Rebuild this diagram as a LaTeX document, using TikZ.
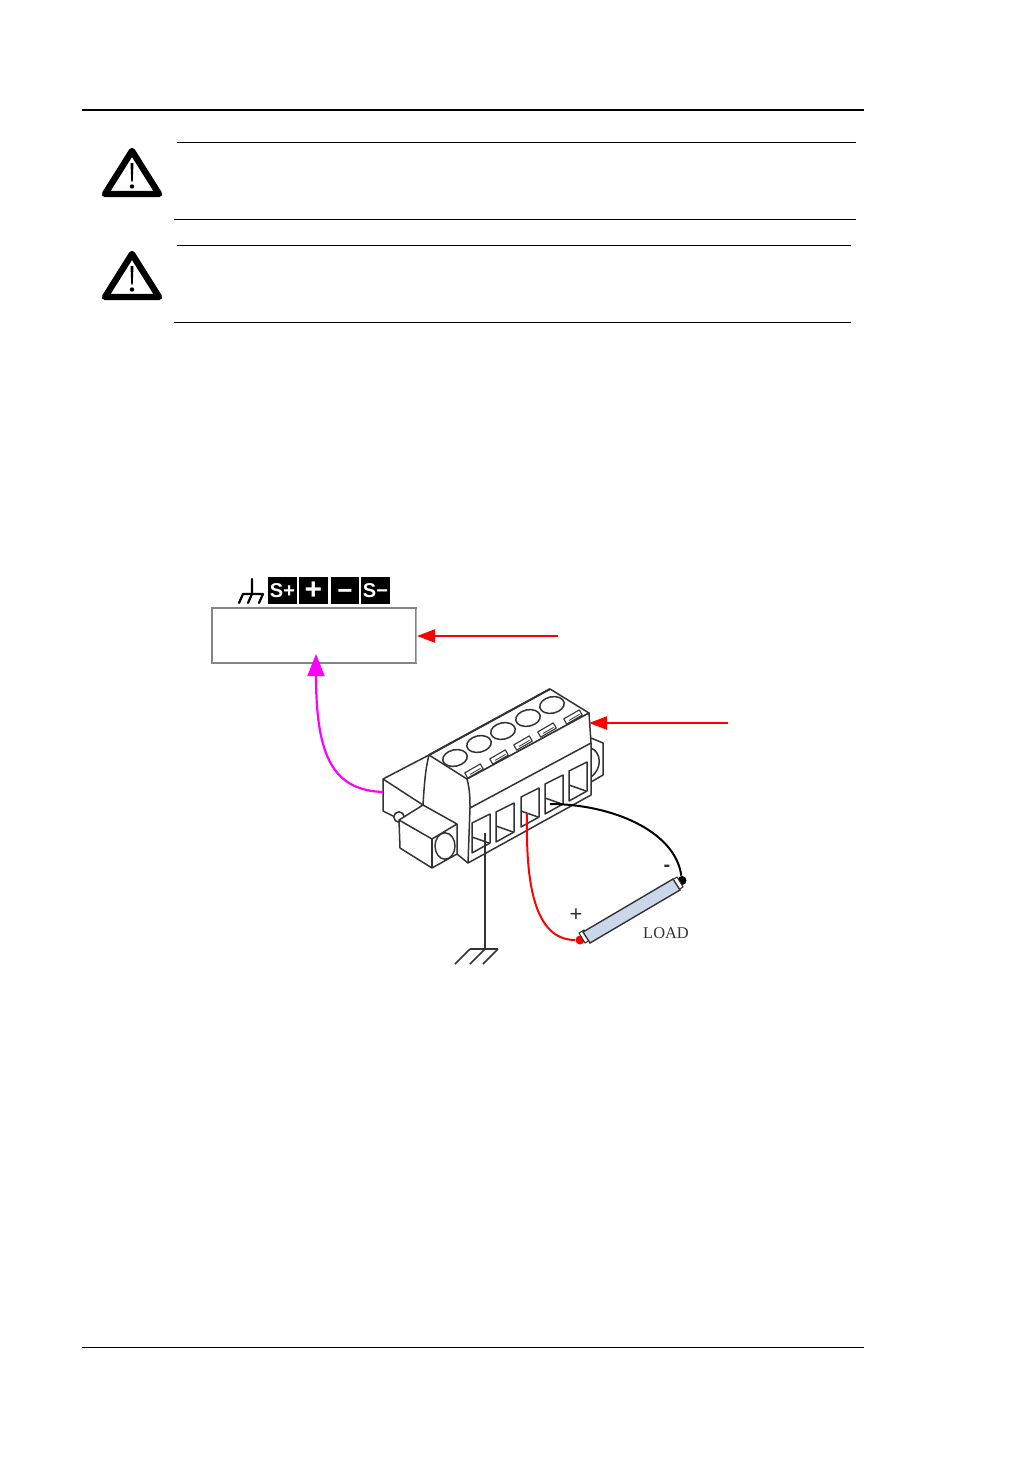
\documentclass[tikz,border=0pt]{standalone}
\usepackage{fontspec}
\setmainfont{Liberation Sans}
\newfontfamily\loadfont{Liberation Serif}
\usetikzlibrary{arrows.meta}
\definecolor{loadblue}{HTML}{CBD6EA}
\definecolor{lineink}{HTML}{333333}
\definecolor{purered}{RGB}{255,0,0}
\definecolor{puremag}{RGB}{255,0,255}
\definecolor{panelgrey}{HTML}{858585}
\tikzset{
  x=0.5pt,y=-0.5pt,
  rule/.style={draw=black,line width=0.5pt},
  part/.style={draw=lineink,line width=0.75pt,line join=round},
  wire/.style={line width=1pt},
  chip/.style={fill=black,text=white,inner sep=0pt,minimum width=14.4pt,minimum height=13.6pt,font=\bfseries\fontsize{10}{10}\selectfont},
  redarrow/.style={draw=purered,line width=1.1pt,-{Triangle[length=9pt,width=6.5pt]}},
  magarrow/.style={draw=puremag,line width=1.1pt,-{Triangle[length=11pt,width=8.5pt]}},
  warnsign/.pic={
    \draw[line width=3.2pt,line join=round,black] (0,4) -- (-27,47) -- (27,47) -- cycle;
    \fill[black] (-1.5,16) -- (1.5,16) -- (0.7,34.5) -- (-0.7,34.5) -- cycle;
    \fill[black] (0,39.5) circle (1.1pt);
  },
  dot/.style={circle,inner sep=0pt,minimum size=4.5pt},
}
\begin{document}
\begin{tikzpicture}
\useasboundingbox (0,0) rectangle (1032,1457);
% page rules
\draw[rule,line width=1pt] (82,110) -- (864,110);
\draw[rule] (82,1347) -- (864,1347);
% notices
\draw[rule] (177,142) -- (856,142);
\draw[rule] (174,219) -- (856,219);
\draw[rule] (177,245) -- (851,245);
\draw[rule] (174,322) -- (851,322);
\pic at (132,147) {warnsign};
\pic at (132,250) {warnsign};
% terminal labels
\node[chip] (sp) at (282.5,590.5) {S+};
\node[chip] (pl) at (313.5,590.5) {\fontsize{15}{15}\selectfont +};
\node[chip,text height=9pt,text depth=0pt] (mi) at (345,590.5) {\fontsize{13}{13}\selectfont −};
\node[chip] (sm) at (375.5,590.5) {S−};
% chassis ground symbol
\draw[line width=1.1pt,black,line cap=round] (252,579) -- (252,594) (243,594) -- (263,594)
  (243,594) -- (239,603) (252,594) -- (248,603) (263,594) -- (259,603);
% panel box
\node[draw=panelgrey,line width=0.6pt,fill=white,inner sep=0pt,minimum width=102pt,minimum height=27.5pt] (panel) at (314,635.5) {};
\draw[draw=gray!60,line width=0.5pt] (416.5,609) -- (416.5,663);
% connector: right ear
\draw[part] (591,738) -- (603,743) -- (603,775) -- (591,782);
\draw[part] (591,748) .. controls (601,752) and (603,768) .. (591,777);
% left flange
\draw[part] (429,755) -- (383,779) -- (383,811) -- (395,817);
\draw[part] (383,779) -- (423,805);
\draw[part] (429,755) .. controls (425,770) and (424,790) .. (423,805);
% pin
\draw[part,fill=white] (399,817) circle (2.6pt);
% small cube
\draw[part,fill=white] (399,820) -- (423,805) -- (457,824) -- (457,854) -- (432,868) -- (400,848) -- cycle;
\draw[part] (399,820) -- (432,839) -- (457,824);
\draw[part] (432,839) -- (432,868);
\draw[part] (445,846) ellipse (5pt and 6.6pt);
\draw[part] (457,854) -- (468,863);
% body
\draw[part,fill=white] (429,755) -- (550,689) -- (589,713) -- (467,779) -- cycle;
\draw[part,line width=1pt] (429,755) -- (550,689);
\draw[part,fill=white] (467,779) .. controls (470,790) and (470,800) .. (470,808) -- (468,863) -- (591,795) -- (591,743) -- (589,713) -- cycle;
\draw[part] (470,808) -- (591,743);
% top holes
\foreach \cx/\cy in {455/758,479/744,503/731,528/718,552/705}{
  \draw[part,rotate around={12:(\cx,\cy)}] (\cx,\cy) ellipse (6.2pt and 4.1pt);
}
% slots
\foreach \cx/\cy in {474/771,499/757,523/743,547/730,573/717}{
  \begin{scope}[shift={(\cx,\cy)},rotate=30]
    \draw[part,line width=0.55pt] (-9,-3) rectangle (9,3);
    \draw[part,line width=0.4pt] (-5,1) -- (7,1);
  \end{scope}
}
% front windows
\foreach \ax/\ay in {472/823,496/812,521/797,545/784,569/771}{
  \draw[part] (\ax,\ay) -- (\ax+18,\ay-9) -- (\ax+18,\ay+20) -- (\ax,\ay+30) -- cycle;
  \draw[part] (\ax,\ay+14) -- (\ax+17,\ay+20);
}
% named anchors for wires
\coordinate (gndtop) at (485,833);
\coordinate (gndbar) at (485,949);
\coordinate (redin) at (527,813);
\coordinate (blackin) at (550,804);
\node[dot,fill=purered] (plusdot) at (580,940) {};
\node[dot,fill=black] (minusdot) at (682,880.5) {};
% ground wire and symbol
\draw[part] (gndtop) -- (gndbar);
\draw[part] (470,949) -- (498,949);
\draw[part] (470,949) -- (455,964) (485,949) -- (470,964) (498,949) -- (483,964);
% load
\draw[draw=lineink,line width=0.5pt,fill=white] (579,933) -- (585,943) -- (590,940) -- (584,930) -- cycle;
\draw[draw=lineink,line width=0.5pt,fill=white] (672,880) -- (678,890) -- (683,887) -- (677,877) -- cycle;
\draw[draw=lineink,line width=0.7pt,fill=loadblue] (583,932) -- (673,879) -- (680,890) -- (590,943) -- cycle;
% wires
\draw[purered,wire] (redin) .. controls (526,870) and (530,940) .. (plusdot);
\draw[black,wire] (blackin) .. controls (610,804) and (675,830) .. (minusdot);
% load labels
\node[inner sep=0pt,text=lineink,font=\fontsize{11}{11}\selectfont] (plus) at (576,915) {+};
\node[inner sep=0pt,text=lineink,font=\bfseries\fontsize{10}{10}\selectfont] (minus) at (667,868) {-};
\node[inner sep=0pt,text=lineink,font=\loadfont\fontsize{8.2}{9}\selectfont] (loadtxt) at (666,933) {LOAD};
% arrows
\coordinate (a1) at (558,636);
\coordinate (a1end) at (417,636);
\coordinate (a2) at (728,723);
\coordinate (a2end) at (589,723);
\coordinate (a3) at (383,792);
\coordinate (a3end) at (316,654);
\draw[redarrow] (a1) -- (a1end);
\draw[redarrow] (a2) -- (a2end);
\draw[magarrow] (a3) .. controls (335,790) and (316,760) .. (a3end);
\end{tikzpicture}
\end{document}
